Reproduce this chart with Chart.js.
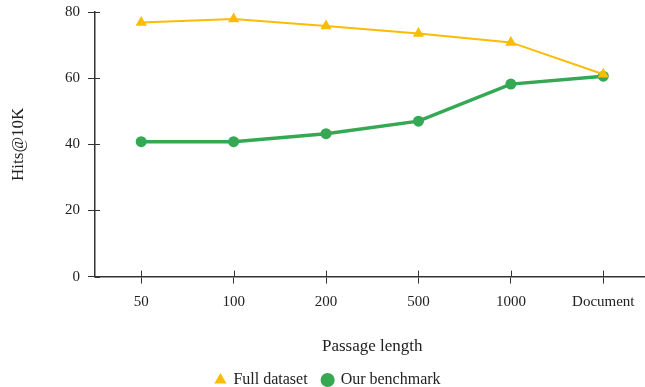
<!DOCTYPE html>
<html>
<head>
<meta charset="utf-8">
<script src="https://cdn.jsdelivr.net/npm/chart.js@4/dist/chart.umd.min.js"></script>
<style>
  html, body { margin: 0; padding: 0; background: #fff; overflow: hidden; }
  #wrap { width: 656px; height: 403px; margin-top: -5px; }
</style>
</head>
<body>
<div id="wrap"><canvas id="chart"></canvas></div>
<script>
// hits@10K by passage length
const LENGTHS   = ['50', '100', '200', '500', '1000', 'Document'];
const FULL      = [76.8, 77.9, 75.8, 73.5, 70.8, 61.2];
const BENCHMARK = [40.8, 40.8, 43.2, 47.0, 58.2, 60.6];
const Y_TICKS   = [0, 20, 40, 60, 80];

const FONT   = "'Liberation Serif', 'DejaVu Serif', serif";
const INK    = '#222';
const AXIS   = '#333';
const YELLOW = '#fbbc04';
const GREEN  = '#34a853';

// ticks that cross the axis line (Chart.js only draws the outer half)
const crossTicks = {
  id: 'crossTicks',
  afterDraw(chart) {
    const { ctx, scales: { x, y } } = chart;
    ctx.save();
    ctx.strokeStyle = AXIS;
    ctx.lineWidth = 1;
    ctx.beginPath();
    x.ticks.forEach(t => {
      const px = Math.round(x.getPixelForValue(t.value)) + 0.5;
      ctx.moveTo(px, y.bottom);
      ctx.lineTo(px, y.bottom - 6);
    });
    y.ticks.forEach(t => {
      const py = Math.round(y.getPixelForValue(t.value)) + 0.5;
      ctx.moveTo(x.left, py);
      ctx.lineTo(x.left + 5, py);
    });
    ctx.stroke();
    ctx.restore();
  }
};

new Chart(document.getElementById('chart'), {
  type: 'line',
  data: {
    labels: LENGTHS,
    datasets: [
      {
        label: 'Full dataset',
        data: FULL,
        borderColor: YELLOW,
        backgroundColor: YELLOW,
        borderWidth: 2,
        pointStyle: 'triangle',
        pointRadius: 6.5,
        pointBorderWidth: 0,
      },
      {
        label: 'Our benchmark',
        data: BENCHMARK,
        borderColor: GREEN,
        backgroundColor: GREEN,
        borderWidth: 3.5,
        pointStyle: 'circle',
        pointRadius: 5.5,
        pointBorderWidth: 0,
      },
    ],
  },
  options: {
    responsive: true, maintainAspectRatio: false,
    animation: false,
    layout: { padding: { top: 2, right: 0, left: 0, bottom: 0 } },
    plugins: {
      legend: {
        position: 'bottom',
        labels: {
          usePointStyle: true, boxHeight: 10, boxWidth: 10, padding: 15,
          color: INK, font: { family: FONT, size: 16 },
        },
      },
      tooltip: { enabled: false },
    },
    scales: {
      x: {
        offset: true,
        border: { color: AXIS, width: 1.5 },
        grid: { drawOnChartArea: false, color: AXIS, tickLength: 7 },
        ticks: { color: INK, font: { family: FONT, size: 15 }, padding: 9, maxRotation: 0 },
        title: {
          display: true, text: 'Passage length', color: INK,
          font: { family: FONT, size: 17 }, padding: { top: 17, bottom: 0 },
        },
      },
      y: {
        min: 0, max: 80,
        afterFit: s => { s.width = 95; },
        afterBuildTicks: s => { s.ticks = Y_TICKS.map(v => ({ value: v })); },
        border: { color: AXIS, width: 1.5 },
        grid: { drawOnChartArea: false, color: AXIS, tickLength: 7 },
        ticks: { color: INK, font: { family: FONT, size: 15 }, padding: 8 },
        title: {
          display: true, text: 'Hits@10K', color: INK,
          font: { family: FONT, size: 17 }, padding: { top: 8, bottom: 0 },
        },
      },
    },
  },
  plugins: [crossTicks],
});
</script>
</body>
</html>
